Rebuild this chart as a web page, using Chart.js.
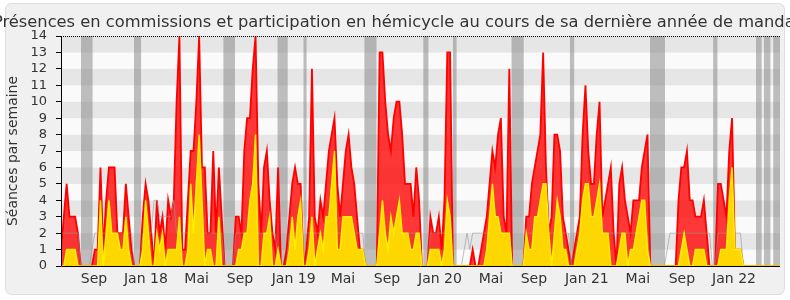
<!DOCTYPE html>
<html><head><meta charset="utf-8">
<script src="https://cdn.jsdelivr.net/npm/chart.js@4.4.1/dist/chart.umd.min.js"></script>
<style>html,body{margin:0;padding:0;background:#fff;}</style>
</head><body>
<canvas id="c" width="790" height="300"></canvas>
<script>
// ---- data (one value per week, week 0 = start of the legislature) ----
const weekCount = 256;
const titleText = 'Présences en commissions et participation en hémicycle au cours de sa dernière année de mandat';
const hemicycle = [
1,3,5,3,3,3,2,0,0,0, 0,0,1,1,6,1,4,6,6,6,
2,2,2,5,3,1,0,0,0,3, 5,4,2,0,4,2,3,1,4,3,
4,10,14,1,1,4,7,7,10,14, 6,6,2,2,7,2,6,3,0,0,
0,0,3,3,2,7,9,9,12,14, 5,2,6,7,4,2,1,6,0,0,
1,3,5,6,5,5,0,1,3,12, 3,2,4,3,5,7,8,9,5,3,
5,7,8,6,5,3,1,1,0,0, 0,0,0,13,13,10,8,7,9,10,
10,8,5,5,5,3,6,4,0,0, 0,3,2,2,3,1,4,13,13,0,
0,0,0,0,0,0,1,0,0,1, 2,3,5,7,6,8,9,3,2,12,
0,0,0,0,0,3,3,5,6,7, 8,13,6,2,3,8,8,7,3,2,
1,0,1,2,3,8,11,7,5,5, 8,10,3,4,5,6,2,0,5,6,
4,3,2,4,4,4,6,7,8,0, 0,0,0,0,0,0,0,0,0,4,
6,6,7,4,4,3,3,3,4,2, 0,0,0,5,5,4,3,7,9,1,
1,1,0,0,0,0,0,0,0,0, 0,0,0,0,0,0
];
const commissions = [
0,0,1,1,1,1,0,0,0,0, 0,0,0,0,4,0,2,4,2,2,
2,1,1,3,1,0,0,0,0,1, 4,2,0,0,2,1,2,0,1,1,
1,1,3,0,0,1,5,2,5,8, 4,0,1,1,0,0,3,0,0,0,
0,0,0,1,1,2,2,4,5,8, 0,0,2,2,3,0,0,1,0,0,
0,1,3,1,3,4,0,0,1,3, 0,1,2,1,3,3,5,7,1,1,
3,3,3,3,2,1,1,1,0,0, 0,0,0,2,4,2,1,3,2,3,
4,2,2,2,1,1,2,2,0,0, 0,1,1,1,1,0,1,4,3,0,
0,0,0,0,0,0,0,0,0,0, 0,1,3,5,3,3,2,2,2,2,
0,0,0,0,0,2,1,1,3,3, 4,5,5,2,0,2,4,3,1,1,
0,0,0,1,2,4,5,5,3,3, 4,5,2,2,2,0,0,0,1,2,
2,0,1,1,2,3,4,4,1,0, 0,0,0,0,0,0,0,0,0,0,
1,2,1,0,0,1,1,1,1,0, 0,0,0,0,1,1,1,4,6,1,
1,1,0,0,0,0,0,0,0,0, 0,0,0,0,0,0
];
const median = [
2,2,2,2,2,2,2,0,0,0, 0,1,2,2,2,2,2,2,2,2,
2,2,2,2,2,2,0,0,0,2, 2,2,2,4,4,3,3,3,3,3,
4,2,2,2,2,2,2,2,2,2, 2,2,2,2,2,2,2,2,0,0,
0,0,2,2,2,2,2,2,2,2, 2,2,2,2,2,2,2,0,0,0,
0,2,2,2,2,2,0,2,2,2, 2,2,2,2,2,2,2,2,2,2,
2,2,2,2,2,2,2,2,0,0, 0,0,0,2,2,2,2,2,2,2,
2,2,2,2,2,2,2,2,0,0, 0,2,2,2,2,2,2,2,2,0,
0,0,0,1,2,1,2,2,2,2, 2,2,2,2,2,2,2,2,2,2,
0,0,0,0,0,2,2,2,2,2, 2,2,2,2,2,2,2,2,2,2,
2,0,2,2,2,2,2,2,2,2, 2,2,2,2,2,2,2,2,2,2,
2,2,2,2,2,2,2,2,2,0, 0,0,0,0,0,1,2,2,2,2,
2,2,2,2,2,2,2,2,2,2, 2,0,0,2,2,2,2,2,2,2,
2,2,0,0,0,0,0,0,0,0, 0,0,0,0,0,0
];
// parliamentary recess periods (in weeks)
const recessStart = [7.1, 25.9, 57.6, 76.8, 86.0, 107.6, 128.5, 139.0, 159.8, 180.5, 208.9, 231.3, 246.5, 249.3, 252.6];
const recessEnd   = [11.2, 28.4, 61.7, 80.4, 87.1, 111.9, 130.3, 140.3, 164.1, 182.0, 214.2, 232.8, 248.5, 251.6, 255.0];
// month tick labels and their week positions
const tickLabels = ['Sep','Jan 18','Mai','Sep','Jan 19','Mai','Sep','Jan 20','Mai','Sep','Jan 21','Mai','Sep','Jan 22'];
const tickWeeks  = [11.7, 30.1, 48.1, 63.5, 82.5, 100.0, 115.6, 134.4, 152.5, 167.7, 186.5, 204.6, 220.2, 238.7];

const toXY = arr => arr.map((v, i) => ({x: i, y: v}));

Chart.defaults.font.family = "'DejaVu Sans', sans-serif";
Chart.defaults.color = '#333';

const decor = {
  id: 'decor',
  beforeDraw(chart) {
    const {ctx, chartArea: a, scales: {x, y}} = chart;
    ctx.save();
    ctx.fillStyle = '#ffffff';
    ctx.fillRect(0, 0, chart.width, chart.height);
    ctx.beginPath();
    ctx.roundRect(5.5, 3.5, 779, 291, 6);
    ctx.fillStyle = '#f0f0f0';
    ctx.fill();
    ctx.strokeStyle = '#dddddd';
    ctx.lineWidth = 1;
    ctx.stroke();
    for (let k = 0; k < 14; k++) {
      const y0 = y.getPixelForValue(k + 1), y1 = y.getPixelForValue(k);
      ctx.fillStyle = (k % 2) ? '#e6e6e6' : '#fafafa';
      ctx.fillRect(a.left, y0, a.right - a.left, y1 - y0);
    }
    ctx.fillStyle = 'rgba(128,128,128,0.5)';
    recessStart.forEach((s, i) => {
      const x0 = x.getPixelForValue(s), x1 = x.getPixelForValue(recessEnd[i]);
      ctx.fillRect(x0, a.top, x1 - x0, a.bottom - a.top);
    });
    ctx.restore();
  },
  afterDatasetsDraw(chart) {
    const {ctx, chartArea: a} = chart;
    ctx.save();
    ctx.strokeStyle = '#000';
    ctx.lineWidth = 1;
    ctx.beginPath();
    ctx.moveTo(a.left + 0.5, a.top);
    ctx.lineTo(a.left + 0.5, a.bottom + 0.5);
    ctx.lineTo(a.right, a.bottom + 0.5);
    ctx.stroke();
    ctx.setLineDash([1, 1]);
    ctx.beginPath();
    ctx.moveTo(a.left, a.top + 0.5);
    ctx.lineTo(a.right, a.top + 0.5);
    ctx.stroke();
    ctx.restore();
  },
  afterDraw(chart) {
    // title drawn at its natural width (it overflows the canvas, like the original)
    const {ctx} = chart;
    ctx.save();
    ctx.font = "16.3px 'DejaVu Sans', sans-serif";
    ctx.fillStyle = '#333';
    ctx.textAlign = 'center';
    ctx.textBaseline = 'alphabetic';
    ctx.fillText(titleText, 397, 26.5);
    ctx.restore();
  }
};

new Chart(document.getElementById('c'), {
  type: 'line',
  data: {
    datasets: [
      { label: 'Présences en commission', data: toXY(commissions), order: 0,
        borderColor: 'rgb(255,238,0)', borderWidth: 1.5, backgroundColor: '#ffd700', fill: 'origin',
        pointRadius: 0, tension: 0 },
      { label: 'Médiane', data: toXY(median), order: 1,
        borderColor: 'rgba(150,150,150,0.6)', borderWidth: 1, fill: false,
        pointRadius: 0, tension: 0 },
      { label: 'Participation en hémicycle', data: toXY(hemicycle), order: 2,
        borderColor: 'rgb(255,0,0)', borderWidth: 1.8, backgroundColor: 'rgba(255,0,0,0.78)', fill: 'origin',
        pointRadius: 0, tension: 0 }
    ]
  },
  options: {
    responsive: false,
    animation: false,
    devicePixelRatio: 1,
    layout: { padding: { left: 0, right: 10, top: 36, bottom: 0 } },
    plugins: {
      legend: { display: false },
      tooltip: { enabled: false },
      title: { display: false }
    },
    scales: {
      x: {
        type: 'linear', min: 0, max: weekCount - 1,
        afterBuildTicks(s) { s.ticks = tickWeeks.map(v => ({ value: v })); },
        afterFit(s) { s.height = 34; },
        ticks: { autoSkip: false, maxRotation: 0, padding: 5, color: '#333', font: { size: 14 },
                 callback: (v, i) => tickLabels[i] },
        grid: { display: false, drawTicks: false },
        border: { display: false }
      },
      y: {
        min: 0, max: 14,
        afterFit(s) { s.width = 61; },
        ticks: { stepSize: 1, autoSkip: false, padding: 9, color: '#333', font: { size: 13 } },
        grid: { drawOnChartArea: false, drawTicks: true, tickLength: 5, color: '#000' },
        border: { display: false },
        title: { display: true, text: 'Séances par semaine', color: '#333', font: { size: 14 },
                 padding: { top: 5, bottom: 0 } }
      }
    }
  },
  plugins: [decor]
});
</script>
</body></html>
